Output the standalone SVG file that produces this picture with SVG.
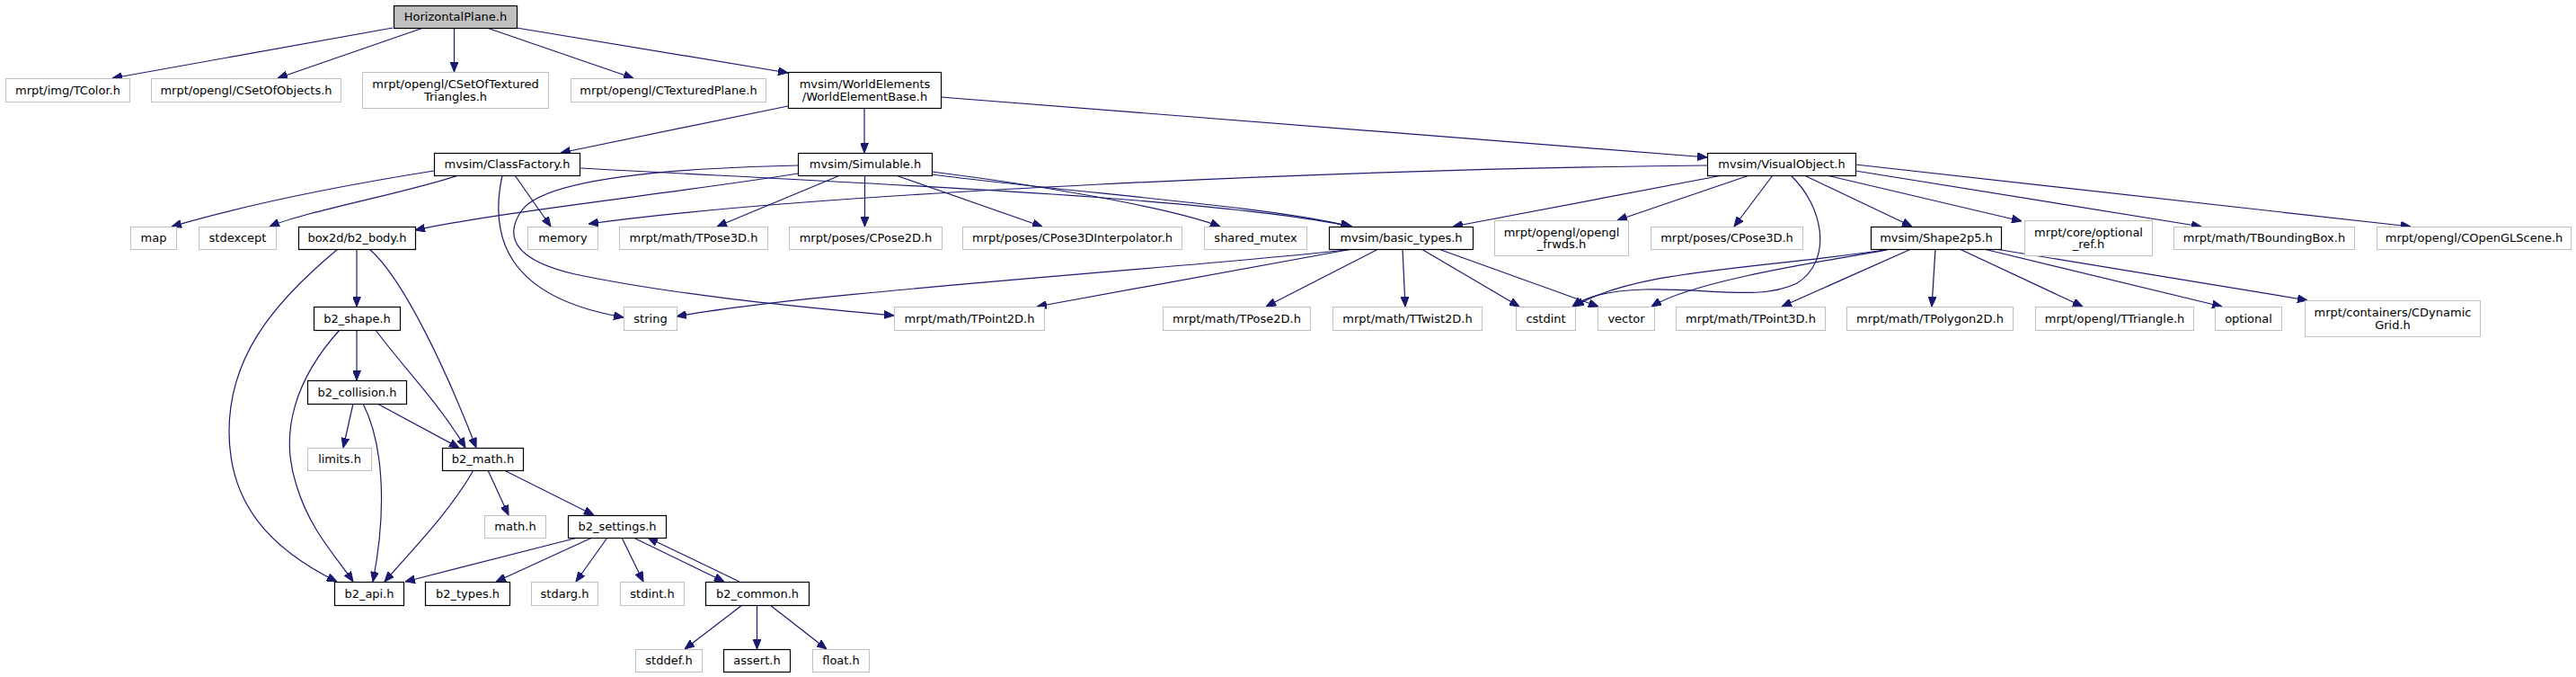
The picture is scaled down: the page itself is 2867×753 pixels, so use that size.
<svg xmlns="http://www.w3.org/2000/svg" width="2867" height="753" viewBox="0 0 2867 753">
<style>
.doc rect{fill:#fff;stroke:#000;stroke-width:1.2}
.ext rect{fill:#fff;stroke:#bfbfbf;stroke-width:1}
.root rect{fill:#bfbfbf;stroke:#000;stroke-width:1.2}
text{font-family:"DejaVu Sans","Liberation Sans",sans-serif;font-size:13px;text-anchor:middle;fill:#000}
#edges path{fill:none;stroke:#191970;stroke-width:1.2;marker-end:url(#a)}
</style>
<defs>
<marker id="a" markerWidth="11" markerHeight="9" refX="11" refY="4.5" orient="auto" markerUnits="userSpaceOnUse"><path d="M0,0 L11,4.5 L0,9 z" fill="#191970" stroke="#191970" stroke-width="1"/></marker>
</defs>
<rect x="0" y="0" width="2867" height="753" fill="#fff"/>
<g id="edges">
<path d="M437,31 L125,87"/>
<path d="M471,31 L309,87"/>
<path d="M505.5,31 L505.5,80"/>
<path d="M542,31 L705,87"/>
<path d="M575,31 L877,81"/>
<path d="M877,118 L624,170"/>
<path d="M962,120 L962,170"/>
<path d="M1047,108 L1900,175"/>
<path d="M483,190 C420,200 300,220 191,252"/>
<path d="M510,195 C450,215 340,235 300,252"/>
<path d="M573,195 L613,252"/>
<path d="M559,195 C545,260 560,330 694,353"/>
<path d="M645,187 C1000,206 1350,220 1505,252"/>
<path d="M888,193 C750,215 560,235 462,256"/>
<path d="M888,184 C700,188 600,205 580,235 C560,265 575,290 640,305 C760,330 900,342 995,351"/>
<path d="M935,195 L798,252"/>
<path d="M962.5,195 L962.5,252"/>
<path d="M997,195 L1160,252"/>
<path d="M1037,191 C1150,205 1300,230 1358,252"/>
<path d="M1037,194 C1200,215 1420,230 1503,252"/>
<path d="M1900,184 C1500,188 900,215 655,249"/>
<path d="M1917,195 L1617,252"/>
<path d="M1947,195 L1800,245"/>
<path d="M1973,195 L1930,252"/>
<path d="M1993,195 C2030,230 2040,290 2000,315 C1960,335 1900,320 1830,322 C1790,323 1765,330 1750,341"/>
<path d="M2008,195 L2128,252"/>
<path d="M2033,195 L2250,246"/>
<path d="M2065,190 L2450,252"/>
<path d="M2065,183 L2683,252"/>
<path d="M2105,277 C1950,300 1820,300 1752,341"/>
<path d="M2100,278 C2000,295 1880,315 1838,341"/>
<path d="M2127,277 L1983,341"/>
<path d="M2154,277 L2150,341"/>
<path d="M2181,277 L2318,341"/>
<path d="M2208,277 L2473,341"/>
<path d="M2221,277 L2568,334"/>
<path d="M1508,277 C1300,300 900,325 753,352"/>
<path d="M1505,277 L1154,341"/>
<path d="M1534,277 L1409,341"/>
<path d="M1561,277 L1564,341"/>
<path d="M1582,277 L1691,341"/>
<path d="M1601,277 L1779,341"/>
<path d="M397,277 L397,341"/>
<path d="M411,277 C450,310 500,420 530,498"/>
<path d="M376,277 C300,340 255,400 255,480 C255,560 300,610 375,647"/>
<path d="M397,367 L397,423"/>
<path d="M418,367 C450,410 490,450 518,498"/>
<path d="M378,367 C330,420 310,480 330,540 C345,590 375,620 393,647"/>
<path d="M393,449 L382,498"/>
<path d="M420,449 L511,498"/>
<path d="M404,449 C425,490 432,560 415,647"/>
<path d="M527,523 C500,570 460,610 428,647"/>
<path d="M543,523 L566,573"/>
<path d="M561,523 L661,573"/>
<path d="M643,598 L451,647"/>
<path d="M659,598 L552,647"/>
<path d="M676,598 L641,647"/>
<path d="M692,598 L716,647"/>
<path d="M705,598 L806,647"/>
<path d="M823,647 L721,598"/>
<path d="M826,673 L762,722"/>
<path d="M842.5,673 L842.5,722"/>
<path d="M857,673 L920,722"/>
</g>
<g id="n0" class="root"><rect x="438.5" y="6.5" width="137" height="25"/><text x="507" y="23">HorizontalPlane.h</text></g>
<g id="n1" class="ext"><rect x="6.5" y="87.5" width="138" height="26"/><text x="75.5" y="104.5">mrpt/img/TColor.h</text></g>
<g id="n2" class="ext"><rect x="168.5" y="87.5" width="211" height="26"/><text x="274" y="104.5">mrpt/opengl/CSetOfObjects.h</text></g>
<g id="n3" class="ext"><rect x="403.5" y="80.5" width="207" height="40"/><text x="507" y="98">mrpt/opengl/CSetOfTextured</text><text x="507" y="112">Triangles.h</text></g>
<g id="n4" class="ext"><rect x="635.5" y="87.5" width="217" height="26"/><text x="744" y="104.5">mrpt/opengl/CTexturedPlane.h</text></g>
<g id="n5" class="doc"><rect x="877.5" y="80.5" width="170" height="40"/><text x="962.5" y="98">mvsim/WorldElements</text><text x="962.5" y="112">/WorldElementBase.h</text></g>
<g id="n6" class="doc"><rect x="483.5" y="170.5" width="162" height="25"/><text x="564.5" y="187">mvsim/ClassFactory.h</text></g>
<g id="n7" class="doc"><rect x="888.5" y="170.5" width="149" height="25"/><text x="963" y="187">mvsim/Simulable.h</text></g>
<g id="n8" class="doc"><rect x="1900.5" y="170.5" width="165" height="25"/><text x="1983" y="187">mvsim/VisualObject.h</text></g>
<g id="n9" class="ext"><rect x="145.5" y="252.5" width="51" height="25"/><text x="171" y="269">map</text></g>
<g id="n10" class="ext"><rect x="221.5" y="252.5" width="86" height="25"/><text x="264.5" y="269">stdexcept</text></g>
<g id="n11" class="doc"><rect x="332.5" y="252.5" width="130" height="25"/><text x="397.5" y="269">box2d/b2_body.h</text></g>
<g id="n12" class="ext"><rect x="587.5" y="252.5" width="78" height="25"/><text x="626.5" y="269">memory</text></g>
<g id="n13" class="ext"><rect x="689.5" y="252.5" width="165" height="25"/><text x="772" y="269">mrpt/math/TPose3D.h</text></g>
<g id="n14" class="ext"><rect x="878.5" y="252.5" width="170" height="25"/><text x="963.5" y="269">mrpt/poses/CPose2D.h</text></g>
<g id="n15" class="ext"><rect x="1071.5" y="252.5" width="244" height="25"/><text x="1193.5" y="269">mrpt/poses/CPose3DInterpolator.h</text></g>
<g id="n16" class="ext"><rect x="1340.5" y="252.5" width="114" height="25"/><text x="1397.5" y="269">shared_mutex</text></g>
<g id="n17" class="doc"><rect x="1479.5" y="252.5" width="160" height="25"/><text x="1559.5" y="269">mvsim/basic_types.h</text></g>
<g id="n18" class="ext"><rect x="1663.5" y="245.5" width="149" height="39"/><text x="1738" y="262.5">mrpt/opengl/opengl</text><text x="1738" y="276">_frwds.h</text></g>
<g id="n19" class="ext"><rect x="1837.5" y="252.5" width="169" height="25"/><text x="1922" y="269">mrpt/poses/CPose3D.h</text></g>
<g id="n20" class="doc"><rect x="2082.5" y="252.5" width="145" height="25"/><text x="2155" y="269">mvsim/Shape2p5.h</text></g>
<g id="n21" class="ext"><rect x="2253.5" y="245.5" width="142" height="39"/><text x="2324.5" y="262.5">mrpt/core/optional</text><text x="2324.5" y="276">_ref.h</text></g>
<g id="n22" class="ext"><rect x="2419.5" y="252.5" width="201" height="25"/><text x="2520" y="269">mrpt/math/TBoundingBox.h</text></g>
<g id="n23" class="ext"><rect x="2645.5" y="252.5" width="216" height="25"/><text x="2753.5" y="269">mrpt/opengl/COpenGLScene.h</text></g>
<g id="n24" class="doc"><rect x="349.5" y="341.5" width="96" height="26"/><text x="397.5" y="358.5">b2_shape.h</text></g>
<g id="n25" class="ext"><rect x="694.5" y="341.5" width="59" height="26"/><text x="724" y="358.5">string</text></g>
<g id="n26" class="ext"><rect x="995.5" y="341.5" width="167" height="26"/><text x="1079" y="358.5">mrpt/math/TPoint2D.h</text></g>
<g id="n27" class="ext"><rect x="1294.5" y="341.5" width="164" height="26"/><text x="1376.5" y="358.5">mrpt/math/TPose2D.h</text></g>
<g id="n28" class="ext"><rect x="1483.5" y="341.5" width="166" height="26"/><text x="1566.5" y="358.5">mrpt/math/TTwist2D.h</text></g>
<g id="n29" class="ext"><rect x="1687.5" y="341.5" width="66" height="26"/><text x="1720.5" y="358.5">cstdint</text></g>
<g id="n30" class="ext"><rect x="1778.5" y="341.5" width="63" height="26"/><text x="1810" y="358.5">vector</text></g>
<g id="n31" class="ext"><rect x="1865.5" y="341.5" width="166" height="26"/><text x="1948.5" y="358.5">mrpt/math/TPoint3D.h</text></g>
<g id="n32" class="ext"><rect x="2055.5" y="341.5" width="185" height="26"/><text x="2148" y="358.5">mrpt/math/TPolygon2D.h</text></g>
<g id="n33" class="ext"><rect x="2265.5" y="341.5" width="176" height="26"/><text x="2353.5" y="358.5">mrpt/opengl/TTriangle.h</text></g>
<g id="n34" class="ext"><rect x="2465.5" y="341.5" width="74" height="26"/><text x="2502.5" y="358.5">optional</text></g>
<g id="n35" class="ext"><rect x="2565.5" y="334.5" width="195" height="40"/><text x="2663" y="352">mrpt/containers/CDynamic</text><text x="2663" y="366">Grid.h</text></g>
<g id="n36" class="doc"><rect x="342.5" y="423.5" width="110" height="26"/><text x="397.5" y="440.5">b2_collision.h</text></g>
<g id="n37" class="ext"><rect x="342.5" y="498.5" width="71" height="25"/><text x="378" y="515">limits.h</text></g>
<g id="n38" class="doc"><rect x="492.5" y="498.5" width="90" height="25"/><text x="537.5" y="515">b2_math.h</text></g>
<g id="n39" class="ext"><rect x="539.5" y="573.5" width="68" height="25"/><text x="573.5" y="590">math.h</text></g>
<g id="n40" class="doc"><rect x="632.5" y="573.5" width="109" height="25"/><text x="687" y="590">b2_settings.h</text></g>
<g id="n41" class="doc"><rect x="372.5" y="647.5" width="77" height="26"/><text x="411" y="664.5">b2_api.h</text></g>
<g id="n42" class="doc"><rect x="473.5" y="647.5" width="94" height="26"/><text x="520.5" y="664.5">b2_types.h</text></g>
<g id="n43" class="ext"><rect x="591.5" y="647.5" width="74" height="26"/><text x="628.5" y="664.5">stdarg.h</text></g>
<g id="n44" class="ext"><rect x="690.5" y="647.5" width="71" height="26"/><text x="726" y="664.5">stdint.h</text></g>
<g id="n45" class="doc"><rect x="785.5" y="647.5" width="115" height="26"/><text x="843" y="664.5">b2_common.h</text></g>
<g id="n46" class="ext"><rect x="707.5" y="722.5" width="74" height="25"/><text x="744.5" y="739">stddef.h</text></g>
<g id="n47" class="doc"><rect x="805.5" y="722.5" width="74" height="25"/><text x="842.5" y="739">assert.h</text></g>
<g id="n48" class="ext"><rect x="904.5" y="722.5" width="63" height="25"/><text x="936" y="739">float.h</text></g>
</svg>
